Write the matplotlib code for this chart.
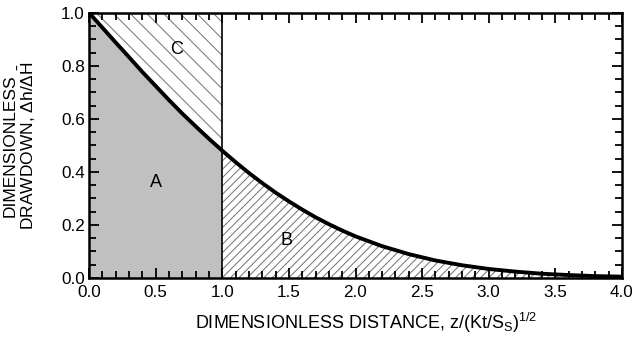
import matplotlib
matplotlib.use('Agg')
import matplotlib.pyplot as plt
import numpy as np
from matplotlib.ticker import MultipleLocator

plt.rcParams['font.family'] = ['Liberation Sans', 'DejaVu Sans']
plt.rcParams['mathtext.fontset'] = 'custom'
plt.rcParams['mathtext.rm'] = 'Liberation Sans'
plt.rcParams['mathtext.it'] = 'Liberation Sans'
plt.rcParams['hatch.linewidth'] = 0.7

# dimensionless distance and drawdown
z = [0.0, 0.1, 0.2, 0.3, 0.4, 0.5, 0.6, 0.7, 0.8, 0.9, 1.0,
     1.1, 1.2, 1.3, 1.4, 1.5, 1.6, 1.7, 1.8, 1.9, 2.0,
     2.2, 2.4, 2.6, 2.8, 3.0, 3.2, 3.4, 3.6, 3.8, 4.0]
drawdown = [1.0, 0.944, 0.888, 0.833, 0.777, 0.724, 0.671, 0.620, 0.572, 0.525, 0.480,
            0.437, 0.396, 0.358, 0.322, 0.289, 0.258, 0.229, 0.203, 0.179, 0.157,
            0.120, 0.090, 0.066, 0.048, 0.034, 0.024, 0.016, 0.011, 0.007, 0.005]
split_z = 1.0
region_labels = ['A', 'B', 'C']
label_pos = [(0.5, 0.36), (1.48, 0.14), (0.66, 0.86)]

z = np.array(z)
dd = np.array(drawdown)
left = z <= split_z
right = z >= split_z

fig = plt.figure(figsize=(6.32, 3.39), dpi=100)
ax = fig.add_axes([0.141, 0.180, 0.843, 0.782])

# A: shaded area under curve
ax.fill_between(z[left], 0, dd[left], facecolor='#c0c0c0', linewidth=0, zorder=1)
# C: hatched area above curve
ax.fill_between(z[left], dd[left], 1, facecolor='white', edgecolor='#707070',
                hatch='\\\\', linewidth=0, zorder=1)
# B: hatched area under curve beyond split
ax.fill_between(z[right], 0, dd[right], facecolor='white', edgecolor='#707070',
                hatch='////', linewidth=0, zorder=1)

ax.plot([split_z, split_z], [0, 1], color='black', lw=1.2, zorder=2)
ax.plot(z, dd, color='black', lw=2.8, zorder=3)

for lab, (x, y) in zip(region_labels, label_pos):
    ax.text(x, y, lab, fontsize=13, ha='center', va='center', zorder=4)

ax.set_xlim(0, 4)
ax.set_ylim(0, 1)
ax.xaxis.set_major_locator(MultipleLocator(0.5))
ax.xaxis.set_minor_locator(MultipleLocator(0.1))
ax.yaxis.set_major_locator(MultipleLocator(0.2))
ax.yaxis.set_minor_locator(MultipleLocator(0.05))
ax.tick_params(which='both', direction='in', top=True, right=True, labelsize=12.3, width=1.3)
ax.tick_params(which='major', length=7)
ax.tick_params(axis='x', which='major', pad=5)
ax.tick_params(axis='y', which='major', pad=3)
ax.tick_params(which='minor', length=5)
for s in ax.spines.values():
    s.set_linewidth(1.8)
    s.set_zorder(5)

ax.set_xlabel(r'DIMENSIONLESS DISTANCE, z/(Kt/S$_\mathrm{S}$)$^\mathrm{1/2}$', fontsize=13)
ax.xaxis.set_label_coords(0.52, -0.125)
ax.set_ylabel('DIMENSIONLESS\n' + r'DRAWDOWN, $\mathrm{\Delta h/\Delta \bar{H}}$',
              fontsize=12.5, linespacing=0.95)
ax.yaxis.set_label_coords(-0.095, 0.5)

fig.savefig('out.png', dpi=100)
